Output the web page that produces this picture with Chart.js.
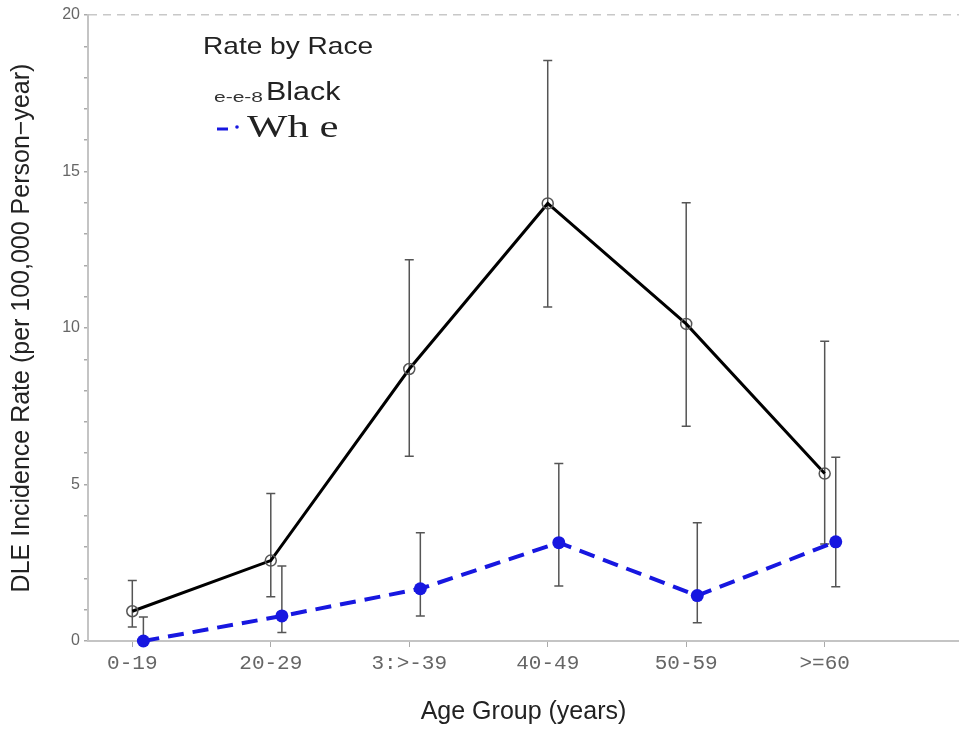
<!DOCTYPE html>
<html>
<head>
<meta charset="utf-8">
<script src="https://cdn.jsdelivr.net/npm/chart.js@4/dist/chart.umd.min.js"></script>
<style>
html,body{margin:0;padding:0;background:#fff;overflow:hidden;}
#wrap{width:959px;height:731px;position:relative;}
</style>
</head>
<body>
<div id="wrap"><canvas id="c"></canvas></div>
<script>
// ---- data ----
const categories = ['0-19', '20-29', '3:>-39', '40-49', '50-59', '>=60'];
const blackRate  = [0.95, 2.57, 8.69, 13.98, 10.13, 5.35];
const blackLower = [0.45, 1.41, 5.90, 10.67, 6.86, 3.10];
const blackUpper = [1.93, 4.71, 12.18, 18.55, 14.00, 9.58];
const whiteRate  = [0.00, 0.80, 1.67, 3.14, 1.45, 3.17];
const whiteLower = [0.00, 0.27, 0.80, 1.76, 0.58, 1.73];
const whiteUpper = [0.77, 2.40, 3.46, 5.67, 3.78, 5.87];
const yTickLabels = ['0', '5', '10', '15', '20'];
const seriesNames = ['Black', 'Wh e'];
const legendTitle = 'Rate by Race';
const blackLegendMarker = 'e-e-8';
const xTitle = 'Age Group (years)';
const yTitle = 'DLE Incidence Rate (per 100,000 Person\u2212year)';

const WHITE_SHIFT = 0.08; // horizontal dodge of the second series

const blue = '#1717e0';

const errorBars = {
  id: 'errorBars',
  beforeDatasetsDraw(chart) {
    const {ctx, scales: {x, y}} = chart;
    ctx.save();
    ctx.strokeStyle = '#555';
    ctx.lineWidth = 1.5;
    chart.data.datasets.forEach(ds => {
      ds.data.forEach((p, i) => {
        const px = x.getPixelForValue(p.x);
        const y1 = y.getPixelForValue(ds.lower[i]);
        const y2 = y.getPixelForValue(ds.upper[i]);
        ctx.beginPath();
        ctx.moveTo(px, y1); ctx.lineTo(px, y2);
        ctx.moveTo(px - 4.5, y1); ctx.lineTo(px + 4.5, y1);
        ctx.moveTo(px - 4.5, y2); ctx.lineTo(px + 4.5, y2);
        ctx.stroke();
      });
    });
    ctx.restore();
  }
};

function stretchText(ctx, text, x, y, font, color, sx) {
  ctx.save();
  ctx.translate(x, y);
  ctx.scale(sx, 1);
  ctx.font = font;
  ctx.fillStyle = color;
  ctx.textBaseline = 'middle';
  ctx.textAlign = 'left';
  ctx.fillText(text, 0, 0);
  ctx.restore();
}

const legendPlugin = {
  id: 'customLegend',
  afterDraw(chart) {
    const ctx = chart.ctx;
    stretchText(ctx, legendTitle, 203, 47, '24px "Liberation Sans"', '#222', 1.17);
    stretchText(ctx, blackLegendMarker, 214, 98, '14px "Liberation Sans"', '#333', 1.5);
    stretchText(ctx, seriesNames[0], 266, 93, '26px "Liberation Sans"', '#222', 1.17);
    ctx.save();
    ctx.strokeStyle = blue; ctx.fillStyle = blue; ctx.lineWidth = 3;
    ctx.beginPath(); ctx.moveTo(217, 129); ctx.lineTo(228, 129); ctx.stroke();
    ctx.beginPath(); ctx.arc(237, 127, 1.8, 0, Math.PI * 2); ctx.fill();
    ctx.restore();
    stretchText(ctx, seriesNames[1], 247, 129, '31px "Liberation Serif"', '#222', 1.38);
  }
};

new Chart(document.getElementById('c'), {
  type: 'line',
  data: {
    datasets: [
      {
        label: seriesNames[0],
        data: blackRate.map((v, i) => ({x: i, y: v})),
        lower: blackLower, upper: blackUpper,
        borderColor: '#000', borderWidth: 3,
        pointRadius: 5.5, pointBorderColor: '#555', pointBorderWidth: 1.5,
        pointBackgroundColor: 'rgba(0,0,0,0)',
        tension: 0, fill: false, clip: false
      },
      {
        label: seriesNames[1],
        data: whiteRate.map((v, i) => ({x: i + WHITE_SHIFT, y: v})),
        lower: whiteLower, upper: whiteUpper,
        borderColor: blue, borderWidth: 4, borderDash: [16, 9],
        pointRadius: 6.5, pointBorderWidth: 0, pointBackgroundColor: blue,
        tension: 0, fill: false, clip: false
      }
    ]
  },
  options: {
    responsive: true,
    maintainAspectRatio: false,
    animation: false,
    devicePixelRatio: 1,
    layout: {autoPadding: false, padding: {top: 15, left: 0, right: 0, bottom: 0}},
    plugins: {legend: {display: false}, tooltip: {enabled: false}},
    scales: {
      x: {
        type: 'linear', min: -0.32, max: 5.97,
        afterBuildTicks(s) { s.ticks = categories.map((c, i) => ({value: i})); },
        afterFit(s) { s.height = 90; s.paddingRight = 0; s.paddingLeft = 0; },
        ticks: {
          autoSkip: false, maxRotation: 0,
          callback: v => categories[v],
          font: {family: 'Liberation Mono', size: 21},
          color: '#666', padding: 4
        },
        grid: {drawOnChartArea: false, tickColor: '#aaa', tickLength: 6, lineWidth: 1},
        border: {color: '#c4c4c4', width: 2},
        title: {
          display: true, text: xTitle,
          font: {family: 'Liberation Sans', size: 25}, color: '#222',
          padding: {top: 0, bottom: 4}
        }
      },
      y: {
        type: 'linear', min: 0, max: 20,
        afterFit(s) { s.width = 88; },
        ticks: {
          stepSize: 1, autoSkip: false,
          callback: v => (v % 5 === 0 ? yTickLabels[v / 5] : ''),
          font: {family: 'Liberation Sans', size: 16},
          color: '#666', padding: 4
        },
        grid: {
          drawOnChartArea: true,
          color: c => (c.tick && c.tick.value === 20 ? '#c8c8c8' : 'rgba(0,0,0,0)'),
          tickColor: '#aaa', tickLength: 4, lineWidth: 1.5
        },
        border: {color: '#c4c4c4', width: 2, dash: [8, 6]},
        title: {
          display: true, text: yTitle,
          font: {family: 'Liberation Sans', size: 25}, color: '#222',
          padding: {top: 7, bottom: 0}
        }
      }
    }
  },
  plugins: [errorBars, legendPlugin]
});
</script>
</body>
</html>
